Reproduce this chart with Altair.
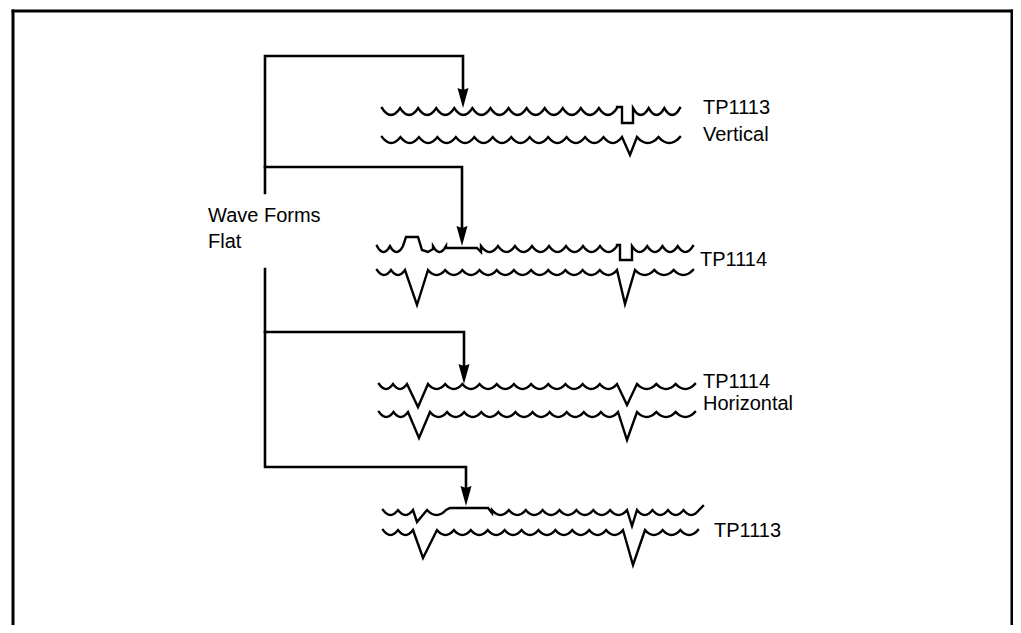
import altair as alt
import pandas as pd

# ---------------- data (diagram coordinates, page pixels) ----------------
RIPPLE_SHAPE = [0.0, 0.45, 0.75, 0.93, 1.0, 0.93, 0.75, 0.45, 0.0]

# each trace: baseline y, ripple depth, ripple period, pieces
# ("r", x0, x1) = ripple run ; ("p", [(x, dy), ...]) = explicit feature
TRACES = {
    "g1_top": (108, 7, 18, [("r", 382, 617), ("p", [(617, -1), (622, -1), (622, 15), (633, 15), (633, 0)]), ("r", 633, 680)]),
    "g1_bot": (137, 6, 18, [("r", 382, 622), ("p", [(622, 0), (630, 18), (637, 0)]), ("r", 637, 680)]),
    "g2_top": (246, 6, 17, [("r", 377, 403), ("p", [(403, 0), (406, -9), (418, -9), (422, 4), (428, 6), (433, 3)]),
                            ("r", 433, 446), ("p", [(446, 2), (477, 2), (481, 6)]), ("r", 481, 617),
                            ("p", [(617, -1), (620, -1), (620, 14), (632, 14), (632, 0)]), ("r", 632, 693)]),
    "g2_bot": (270, 5, 17, [("r", 377, 405), ("p", [(405, 0), (417, 35), (428, 0)]), ("r", 428, 617),
                            ("p", [(617, 0), (625, 34), (635, 0)]), ("r", 635, 693)]),
    "g3_top": (384, 5, 17, [("r", 379, 407), ("p", [(407, 0), (418, 23), (428, 0)]), ("r", 428, 617),
                            ("p", [(617, 0), (627, 21), (637, 0)]), ("r", 637, 695)]),
    "g3_bot": (412, 5, 17, [("r", 379, 408), ("p", [(408, 0), (419, 26), (430, 0)]), ("r", 430, 618),
                            ("p", [(618, 0), (627, 28), (637, 0)]), ("r", 637, 695)]),
    "g4_top": (510, 5, 17, [("r", 383, 413), ("p", [(413, 0), (417, 12), (427, 0)]), ("r", 427, 446),
                            ("p", [(446, 0), (450, -2), (488, -2), (492, 3)]), ("r", 492, 627),
                            ("p", [(627, 0), (632, 16), (637, 0)]), ("r", 637, 699), ("p", [(699, 0), (703, -4)])]),
    "g4_bot": (530, 5, 17, [("r", 383, 413), ("p", [(413, 0), (423, 28), (437, 0)]), ("r", 437, 623),
                            ("p", [(623, 0), (633, 35), (645, 0)]), ("r", 645, 698)]),
}

# connector polylines
CONNECTORS = {
    "trunk_a": [(265, 193), (265, 56), (463, 56), (463, 100)],
    "br2": [(265, 167), (462, 167), (462, 238)],
    "trunk_b": [(265, 269), (265, 467), (466, 467), (466, 498)],
    "br3": [(265, 332), (464, 332), (464, 376)],
}
ARROW_X = [463, 462, 464, 466]
ARROW_TIP = [108, 246, 384, 506]

FRAME = {
    "left": [(13, 625), (13, 11)],
    "top": [(13, 11), (1012, 11)],
    "right": [(1012, 11), (1012, 625)],
}

LABEL_TEXT = ["TP1113", "Vertical", "TP1114", "TP1114", "Horizontal", "TP1113", "Wave Forms", "Flat"]
LABEL_X = [703, 703, 700, 703, 703, 714, 208, 208]
LABEL_Y = [108, 135, 260, 382, 404, 531, 216, 242]

# ---------------- build tables ----------------
def ripple(x0, x1, y0, amp, period):
    n = max(1, round((x1 - x0) / period))
    w = (x1 - x0) / n
    m = len(RIPPLE_SHAPE) - 1
    pts = []
    for k in range(n):
        for j in range(m):
            pts.append((x0 + k * w + j * w / m, y0 + amp * RIPPLE_SHAPE[j]))
    pts.append((x1, y0))
    return pts

rows = []
for name, (y0, amp, per, pieces) in TRACES.items():
    pts = []
    for pc in pieces:
        if pc[0] == "r":
            pts += ripple(pc[1], pc[2], y0, amp, per)
        else:
            pts += [(x, y0 + dy) for x, dy in pc[1]]
    for i, (x, y) in enumerate(pts):
        rows.append({"id": name, "i": i, "x": x, "y": y, "w": 2.4})
for name, pts in CONNECTORS.items():
    for i, (x, y) in enumerate(pts):
        rows.append({"id": name, "i": i, "x": x, "y": y, "w": 2.6})
for name, pts in FRAME.items():
    for i, (x, y) in enumerate(pts):
        rows.append({"id": "frame_" + name, "i": i, "x": x, "y": y, "w": 3})
lines = pd.DataFrame(rows)

arrows = pd.DataFrame({"x": ARROW_X, "y": [t - 10 for t in ARROW_TIP]})
labels = pd.DataFrame({"t": LABEL_TEXT, "x": LABEL_X, "y": LABEL_Y})

W, H = 1005, 617
xs = alt.Scale(domain=[8, 8 + W], nice=False, zero=False)
ys = alt.Scale(domain=[8, 8 + H], nice=False, zero=False, reverse=True)

base_x = alt.X("x:Q", scale=xs, axis=None)
base_y = alt.Y("y:Q", scale=ys, axis=None)

line_layer = alt.Chart(lines).mark_line(color="black", strokeJoin="miter", strokeCap="square").encode(
    x=base_x, y=base_y, detail="id:N", order="i:Q",
    strokeWidth=alt.StrokeWidth("w:Q", scale=None, legend=None),
)

arrow_layer = alt.Chart(arrows).mark_point(
    shape="M-0.55,-1L0,-0.8L0.55,-1L0,1Z", filled=True, color="black", opacity=1, size=400, strokeWidth=0
).encode(x=base_x, y=base_y)

text_layer = alt.Chart(labels).mark_text(
    align="left", baseline="middle", fontSize=20, font="Liberation Sans", color="black"
).encode(x=base_x, y=base_y, text="t:N")

chart = alt.layer(line_layer, arrow_layer, text_layer).properties(
    width=W, height=H, padding=0, autosize="none", background="white"
).configure_view(stroke=None)

chart.save("out.html", embed_options={"renderer": "svg", "actions": False})
